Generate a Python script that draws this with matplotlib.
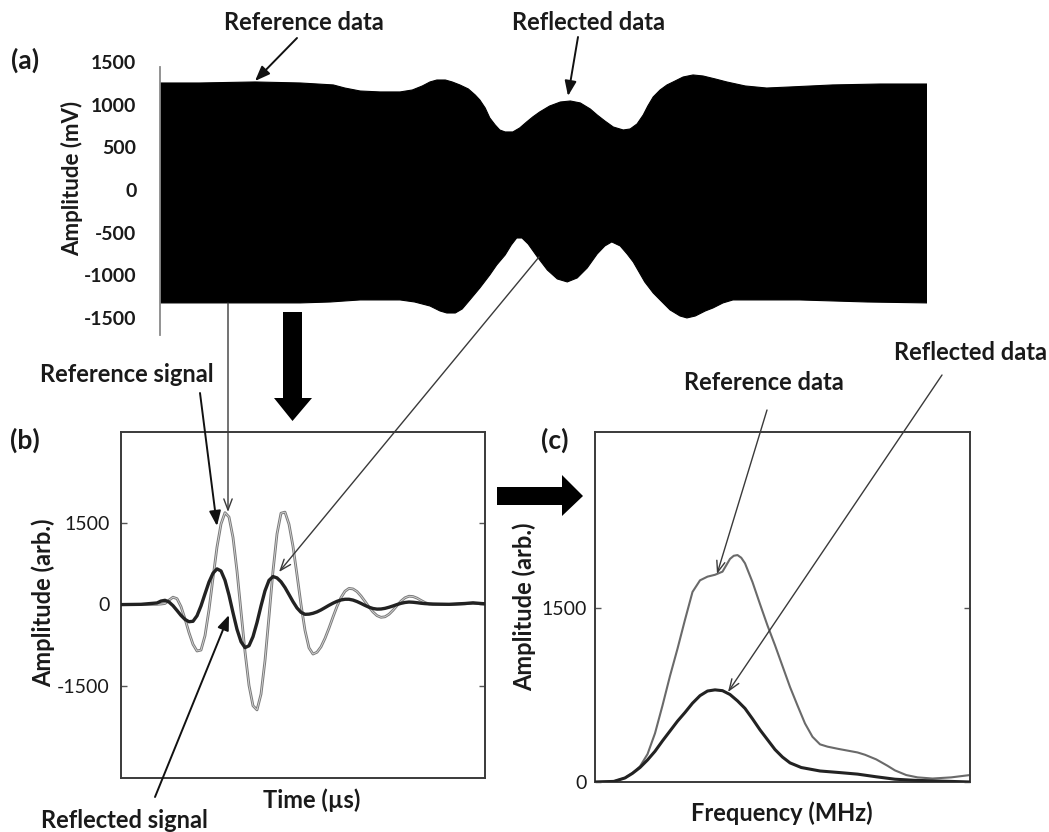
import matplotlib
matplotlib.use("Agg")
import matplotlib.pyplot as plt
from matplotlib.patches import Polygon

plt.rcParams['font.family'] = ['Lato', 'DejaVu Sans']

# ---------------- data ----------------
# (a) envelope of the dense raw signal (time in arbitrary µs units, mV)
a_time_top = [0, 5.2, 12.4, 18.3, 22.6, 24.1, 26.1, 28.7, 31.3, 32.9, 34.2, 35.2, 36.1,
              37.2, 38.1, 39.1, 40.2, 41.1, 41.7, 42.4, 43.0, 43.7, 44.3, 45.0, 46.0,
              46.9, 47.8, 48.6, 49.5, 50.8, 52.2, 53.5, 54.8, 56.1, 57.0, 58.0, 59.1,
              60.4, 61.3, 62.2, 63.0, 63.6, 64.3, 65.2, 66.1, 66.9, 68.2, 69.5, 70.8,
              72.4, 73.9, 76.3, 79.1, 82.1, 87.7, 93.9, 100]
a_top = [1254, 1254, 1266, 1254, 1231, 1195, 1160, 1149, 1149, 1172, 1219, 1266, 1289,
         1289, 1266, 1231, 1184, 1113, 1055, 961, 844, 762, 703, 680, 680,
         727, 797, 856, 914, 984, 1031, 1043, 1020, 949, 879, 809, 738,
         703, 715, 774, 879, 984, 1090, 1172, 1231, 1266, 1324, 1348, 1336,
         1301, 1266, 1219, 1195, 1207, 1231, 1242, 1242]
a_time_bot = [0, 11.7, 18.3, 22.2, 24.1, 26.1, 31.3, 33.2, 35.2, 36.5, 37.4, 38.5, 39.4,
              40.4, 41.7, 43.0, 43.9, 45.0, 45.8, 46.5, 47.2, 48.0, 49.2, 50.5, 51.8,
              53.1, 54.4, 55.7, 57.0, 58.0, 58.9, 60.0, 60.9, 61.7, 63.2, 64.3, 65.2,
              66.5, 67.8, 68.7, 69.8, 71.1, 72.1, 73.4, 74.7, 78.2, 83.4, 92.2, 100]
a_bot = [-1324, -1324, -1324, -1313, -1301, -1289, -1289, -1313, -1360, -1418, -1442, -1442, -1395,
         -1289, -1149, -996, -879, -762, -645, -563, -563, -633, -785, -938, -1043,
         -1078, -1031, -914, -750, -656, -609, -656, -750, -844, -1078, -1207, -1289,
         -1406, -1477, -1500, -1477, -1418, -1383, -1324, -1289, -1289, -1289, -1313, -1324]
a_yticks = [1500, 1000, 500, 0, -500, -1000, -1500]

# (b) time signals (µs, arb.)
b_time = [0, 0.5, 0.9, 1.0, 1.1, 1.2, 1.3, 1.4, 1.5, 1.6, 1.7, 1.8, 1.9,
          2.0, 2.1, 2.2, 2.3, 2.4, 2.5, 2.6, 2.7, 2.8, 2.9,
          3.0, 3.1, 3.2, 3.3, 3.4, 3.5, 3.6, 3.7, 3.8, 3.9,
          4.0, 4.1, 4.2, 4.3, 4.4, 4.5, 4.6, 4.7, 4.8, 4.9,
          5.0, 5.1, 5.2, 5.3, 5.4, 5.5, 5.6, 5.7, 5.8, 5.9,
          6.0, 6.1, 6.2, 6.3, 6.4, 6.5, 6.6, 6.7, 6.8, 6.9,
          7.0, 7.1, 7.2, 7.3, 7.4, 7.5, 7.6, 7.7, 7.8, 8.2, 8.6, 8.8, 9.0, 9.1]
b_reference = [-10, -10, -5, 0, 10, 72, 126, 99, -47, -272, -526, -741, -864,
               -846, -582, -104, 480, 1048, 1472, 1681, 1601, 1226, 606,
               -135, -876, -1496, -1871, -1947, -1658, -1040, -230, 609, 1289,
               1671, 1691, 1468, 1060, 537, -8, -484, -806, -920, -886,
               -787, -631, -443, -238, -43, 119, 236, 288, 278, 230,
               148, 48, -55, -146, -213, -244, -234, -188, -115, -28,
               54, 115, 144, 138, 109, 67, 28, 3, -5, -10, 5, 15, 5, 0]
b_reflected = [-10, -5, 20, 55, 69, 37, -30, -118, -209, -283, -325, -317, -216,
               -34, 188, 405, 567, 647, 609, 437, 164, -160, -465,
               -692, -802, -767, -600, -340, -36, 244, 436, 506, 481,
               410, 304, 175, 44, -72, -152, -189, -186, -170, -144,
               -108, -66, -23, 16, 50, 75, 88, 88, 73, 46,
               12, -25, -58, -82, -93, -91, -79, -59, -35, -9,
               13, 29, 37, 33, 25, 15, 8, 3, 0, -5, 10, 22, 10, 5]
b_yticks = [-1500, 0, 1500]

# (c) spectra (MHz, arb.)
c_freq_ref = [0, 0.5, 0.8, 1.0, 1.2, 1.4, 1.6, 1.8, 2.0, 2.2, 2.4, 2.6, 2.8, 3.0,
              3.2, 3.4, 3.5, 3.6, 3.7, 3.8, 3.9, 4.0, 4.2, 4.4, 4.6, 4.8, 5.0,
              5.2, 5.4, 5.6, 5.8, 6.0, 6.2, 6.5, 7.0, 7.2, 7.5, 7.8, 8.0, 8.3,
              8.6, 9.0, 9.5, 10.0]
c_reference = [0, 5, 35, 78, 135, 240, 420, 660, 915, 1150, 1400, 1640, 1740, 1772,
               1788, 1815, 1870, 1925, 1952, 1958, 1935, 1887, 1725, 1535, 1350, 1180, 1000,
               820, 660, 505, 390, 325, 305, 285, 255, 235, 195, 140, 100, 60,
               40, 30, 40, 60]
c_freq_refl = [0, 0.5, 0.8, 1.0, 1.2, 1.4, 1.6, 1.8, 2.0, 2.2, 2.4, 2.6, 2.8, 3.0,
               3.2, 3.4, 3.6, 3.8, 4.0, 4.2, 4.4, 4.6, 4.8, 5.0, 5.2, 5.5, 6.0,
               6.5, 7.0, 7.5, 8.0, 8.5, 9.0, 9.5, 10.0]
c_reflected = [0, 5, 35, 75, 125, 190, 265, 355, 440, 525, 600, 680, 745, 785,
               795, 788, 755, 700, 635, 545, 450, 365, 280, 215, 165, 125, 95,
               82, 68, 45, 24, 15, 10, 5, 0]
c_yticks = [0, 1500]

# ---------------- figure ----------------
W, H = 1049, 832
fig = plt.figure(figsize=(W / 100, H / 100), dpi=100)
TXT = '#1a1a1a'
FS_TICK = 14
FS_LAB = 17
FS_ANN = 17


def rect(l, t, r, b):
    return [l / W, 1 - b / H, (r - l) / W, (b - t) / H]


# panel (a)
axa = fig.add_axes(rect(160, 62, 927, 335))
env_x = a_time_top + a_time_bot[::-1]
env_y = a_top + a_bot[::-1]
axa.fill(env_x, env_y, color='black', lw=0.8, ec='black')
axa.set_xlim(0, 100)
axa.set_ylim(-1700, 1500)
for s in ['top', 'right', 'bottom']:
    axa.spines[s].set_visible(False)
axa.spines['left'].set_color('#8a8a8a')
axa.spines['left'].set_linewidth(1.3)
axa.spines['left'].set_bounds(-1700, 1440)
axa.set_xticks([])
axa.set_yticks(a_yticks)
axa.set_yticklabels([str(v) for v in a_yticks], fontsize=FS_TICK, fontweight='bold', color=TXT)
axa.tick_params(axis='y', length=0, pad=17)
axa.set_ylabel('Amplitude (mV)', fontsize=16, fontweight='bold', color=TXT, va='center')
axa.yaxis.set_label_coords((72 - 160) / 767, (335 - 178) / 273)

# panel (b)
axb = fig.add_axes(rect(121, 432, 485, 778))
axb.plot(b_time, b_reference, color='#7a7a7a', lw=2.0, zorder=2)
axb.plot(b_time, b_reference, color='#d8d8d8', lw=0.6, zorder=2)
axb.plot(b_time, b_reflected, color='#222222', lw=2.4, zorder=3)
axb.set_xlim(0, 9.1)
axb.set_ylim(-3200, 3165)
axb.set_xticks([])
axb.set_yticks(b_yticks)
axb.set_yticklabels([str(v) for v in b_yticks], fontsize=FS_TICK, color=TXT)
axb.tick_params(axis='y', direction='in', length=4, width=1, color='#555555',
                right=True, pad=8)
axb.set_ylabel('Amplitude (arb.)', fontsize=FS_LAB, fontweight='bold', color=TXT, va='center')
axb.yaxis.set_label_coords((43 - 121) / 364, (778 - 603) / 346)
axb.set_xlabel('Time (µs)', fontsize=FS_LAB, fontweight='bold', color=TXT, va='center')
axb.xaxis.set_label_coords((312 - 121) / 364, (778 - 800) / 346)

# panel (c)
axc = fig.add_axes(rect(595, 432, 970, 782))
axc.plot(c_freq_ref, c_reference, color='#6a6a6a', lw=1.5, zorder=2)
axc.plot(c_freq_refl, c_reflected, color='#222222', lw=2.2, zorder=3)
axc.set_xlim(0, 10)
axc.set_ylim(0, 3020)
axc.set_xticks([])
axc.set_yticks(c_yticks)
axc.set_yticklabels([str(v) for v in c_yticks], fontsize=FS_TICK, color=TXT)
axc.tick_params(axis='y', direction='in', length=4, width=1, color='#555555',
                right=True, pad=6)
axc.set_ylabel('Amplitude (arb.)', fontsize=FS_LAB, fontweight='bold', color=TXT, va='center')
axc.yaxis.set_label_coords((524 - 595) / 375, (782 - 607) / 350)
axc.set_xlabel('Frequency (MHz)', fontsize=FS_LAB, fontweight='bold', color=TXT, va='center')
axc.xaxis.set_label_coords((782 - 595) / 375, (782 - 813) / 350)

for ax in (axb, axc):
    for s in ax.spines.values():
        s.set_color('#3a3a3a')
        s.set_linewidth(1.4)

# ---------------- overlay: labels, arrows ----------------
ov = fig.add_axes([0, 0, 1, 1], zorder=10)
ov.set_xlim(0, W)
ov.set_ylim(H, 0)
ov.axis('off')
ov.patch.set_alpha(0)

labels = [
    ('(a)', 25, 60, 19), ('(b)', 25, 440, 19), ('(c)', 555, 440, 19),
    ('Reference data', 304, 23, FS_ANN), ('Reflected data', 588, 23, FS_ANN),
    ('Reference signal', 127, 375, FS_ANN), ('Reflected signal', 124, 820, FS_ANN),
    ('Reference data', 764, 382, FS_ANN), ('Reflected data', 971, 352, FS_ANN),
]
for s, x, y, fs in labels:
    ov.text(x, y, s, fontsize=fs, fontweight='bold', color=TXT, ha='center', va='center')

filled = [((297, 38), (255, 81)), ((578, 37), (568, 96)),
          ((200, 393), (217, 526)), ((155, 797), (229, 615))]
for (x0, y0), (x1, y1) in filled:
    ov.annotate('', xy=(x1, y1), xytext=(x0, y0),
                arrowprops=dict(arrowstyle='-|>,head_length=0.9,head_width=0.35',
                                color='#111111', lw=1.4, shrinkA=0, shrinkB=0))

open_arrows = [((228, 303), (228, 512)), ((539, 257), (279, 572)),
               ((767, 410), (717, 574)), ((942, 375), (728, 692))]
for (x0, y0), (x1, y1) in open_arrows:
    ov.annotate('', xy=(x1, y1), xytext=(x0, y0),
                arrowprops=dict(arrowstyle='->,head_length=0.8,head_width=0.3',
                                color='#3a3a3a', lw=1.0, shrinkA=0, shrinkB=0))

# big block arrows
down = [(283, 312), (302, 312), (302, 398), (312, 398), (292.5, 421),
        (274, 398), (283, 398)]
right = [(497, 487), (562, 487), (562, 475), (583, 496), (562, 516),
         (562, 505), (497, 505)]
for pts in (down, right):
    ov.add_patch(Polygon(pts, closed=True, color='black', lw=0))

fig.savefig('out.png', dpi=100, facecolor='white')
